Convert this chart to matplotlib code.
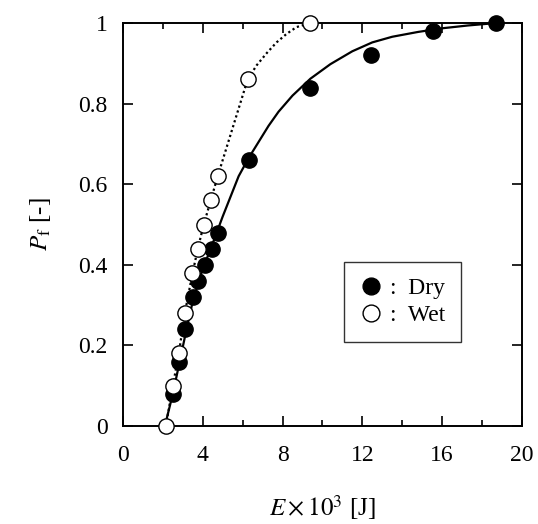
import matplotlib
matplotlib.use("Agg")
import matplotlib.pyplot as plt
from matplotlib.ticker import MultipleLocator

plt.rcParams["font.family"] = "Liberation Serif"
plt.rcParams["mathtext.fontset"] = "stix"

# measured points
dry_E = [2.5, 2.8, 3.1, 3.5, 3.75, 4.1, 4.45, 4.75, 6.3, 9.4, 12.45, 15.55, 18.7]
dry_P = [0.08, 0.16, 0.24, 0.32, 0.36, 0.40, 0.44, 0.48, 0.66, 0.84, 0.92, 0.98, 1.0]
wet_E = [2.15, 2.5, 2.8, 3.1, 3.45, 3.75, 4.05, 4.4, 4.75, 6.25, 9.4]
wet_P = [0.0, 0.10, 0.18, 0.28, 0.38, 0.44, 0.50, 0.56, 0.62, 0.86, 1.0]

# fitted curves
dry_fit_E = [2.1, 2.5, 2.8, 3.1, 3.5, 4.0, 4.4, 4.7, 5.0, 5.4, 5.8, 6.3, 6.8,
             7.3, 7.8, 8.5, 9.4, 10.4, 11.5, 12.5, 13.5, 14.8, 16.0, 17.3, 18.7]
dry_fit_P = [0.0, 0.08, 0.15, 0.22, 0.31, 0.39, 0.44, 0.48, 0.52, 0.57, 0.62,
             0.665, 0.705, 0.745, 0.78, 0.82, 0.862, 0.898, 0.93, 0.952, 0.966,
             0.978, 0.987, 0.994, 1.0]
wet_fit_E = [2.15, 2.5, 2.8, 3.1, 3.45, 3.75, 4.05, 4.4, 4.75, 5.5, 6.25, 6.7,
             7.2, 7.7, 8.2, 8.7, 9.4]
wet_fit_P = [0.0, 0.10, 0.18, 0.28, 0.37, 0.44, 0.50, 0.56, 0.62, 0.74, 0.86,
             0.895, 0.925, 0.952, 0.973, 0.99, 1.0]

fig = plt.figure(figsize=(5.38, 5.24), dpi=100)
ax = fig.add_axes([0.2286, 0.187, 0.7414, 0.769])

ax.plot(dry_fit_E, dry_fit_P, color="black", lw=1.6, zorder=2)
ax.plot(wet_fit_E, wet_fit_P, color="black", lw=1.6, ls=(0, (1.0, 1.3)), zorder=2)

ax.plot(dry_E, dry_P, "o", ms=11, mfc="black", mec="black", mew=1,
        label=":  Dry", zorder=3, clip_on=False)
ax.plot(wet_E, wet_P, "o", ms=11, mfc="white", mec="black", mew=1,
        label=":  Wet", zorder=4, clip_on=False)

ax.set_xlim(0, 20)
ax.set_ylim(0, 1)
ax.xaxis.set_major_locator(MultipleLocator(4))
ax.xaxis.set_minor_locator(MultipleLocator(2))
ax.set_yticks([0, 0.2, 0.4, 0.6, 0.8, 1.0])
ax.set_yticklabels(["0", "0.2", "0.4", "0.6", "0.8", "1"])

ax.tick_params(which="both", direction="in", top=True, right=True,
               labelsize=17, width=1.2)
ax.tick_params(which="major", length=7)
ax.tick_params(which="minor", length=4)
ax.tick_params(axis="x", pad=14)
ax.tick_params(axis="y", pad=11)
for s in ax.spines.values():
    s.set_linewidth(1.4)

ax.set_xlabel(r"$E\times10^3$ [J]", fontsize=18, labelpad=19)
ax.set_ylabel(r"$P_\mathrm{f}$ [-]", fontsize=18, labelpad=18)

leg = ax.legend(loc="lower right", bbox_to_anchor=(0.847, 0.209), fontsize=17,
                frameon=True, fancybox=False, edgecolor="black",
                handlelength=1.0, handletextpad=0.3, borderpad=0.65,
                labelspacing=0.25, markerscale=1.1, borderaxespad=0)
leg.get_frame().set_linewidth(1.0)

fig.savefig("out.png", dpi=100)
